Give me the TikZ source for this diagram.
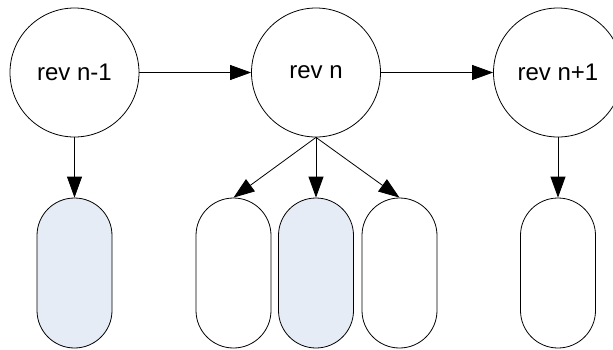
\documentclass[tikz,border=0pt]{standalone}
\usepackage{fontspec}
\setmainfont{Liberation Sans}
\usetikzlibrary{arrows.meta}
\definecolor{paleblue}{HTML}{E6ECF6}
\begin{document}
\begin{tikzpicture}[x=1pt,y=-1pt,line width=0.8pt,
  rev/.style={circle,draw,minimum size=129pt,inner sep=0pt,font=\fontsize{24}{28}\selectfont},
  capsule/.style={draw,rounded corners=37.5pt,minimum width=75pt,minimum height=150pt,inner sep=0pt},
  flow/.style={-{Triangle[length=21pt,width=15pt]}}]
\clip (0,0) rectangle (613,349);
\fill[white] (0,0) rectangle (613,349);
% revisions
\node[rev] (r1) at (74.5,72.5) {rev n-1};
\node[rev] (r2) at (316,72.5) {rev n};
\node[rev] (r3) at (558,72.5) {rev n+1};
% content blocks
\node[capsule,fill=paleblue] (c1) at (74.5,273) {};
\node[capsule] (c2) at (233.5,273) {};
\node[capsule,fill=paleblue] (c3) at (316,273) {};
\node[capsule] (c4) at (399.5,273) {};
\node[capsule] (c5) at (558,273) {};
% connectors
\draw[flow] (r1) -- (r2);
\draw[flow] (r2) -- (r3);
\draw[flow] (r1.south) -- (c1.north);
\draw[flow] (r2.south) -- (c2.north);
\draw[flow] (r2.south) -- (c3.north);
\draw[flow] (r2.south) -- (c4.north);
\draw[flow] (r3.south) -- (c5.north);
\end{tikzpicture}
\end{document}
